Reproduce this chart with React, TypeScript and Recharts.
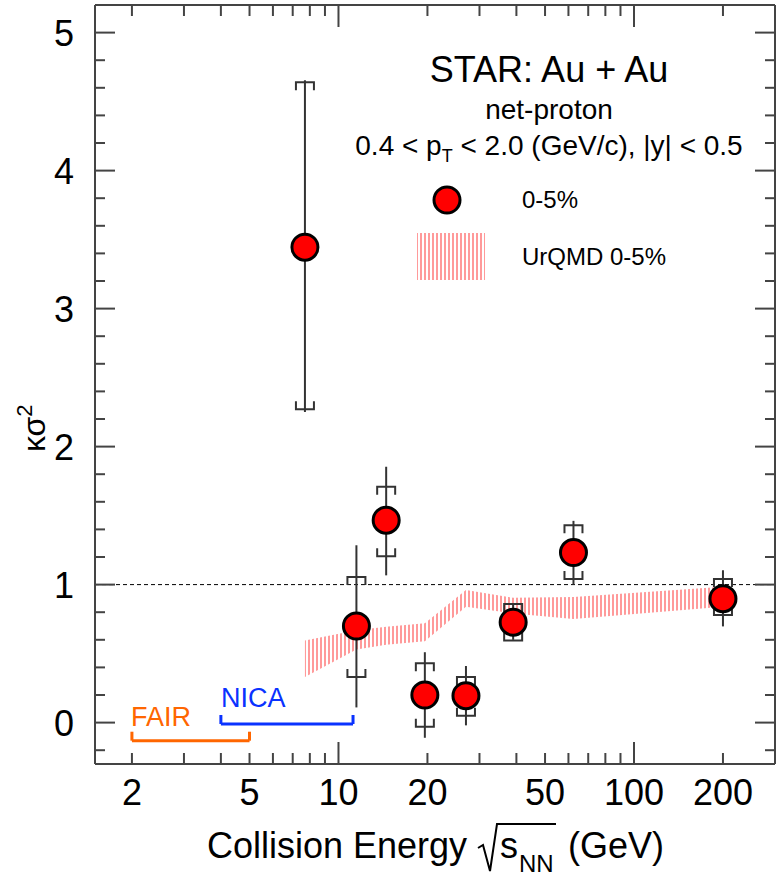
import React from "react";
import {
  ComposedChart,
  Area,
  Scatter,
  ErrorBar,
  XAxis,
  YAxis,
  ReferenceLine,
} from "recharts";

// net-proton kappa*sigma^2, 0-5% Au+Au (STAR)
const energies = [7.7, 11.5, 14.5, 19.6, 27, 39, 62.4, 200];
const kappaSigma2 = [3.445, 0.7, 1.467, 0.2, 0.195, 0.728, 1.232, 0.898];
const statLow = [2.25, 0.11, 1.067, -0.11, -0.02, 0.6, 1.0, 0.697];
const statHigh = [4.655, 1.285, 1.854, 0.51, 0.41, 0.86, 1.462, 1.104];
const sysLow = [2.27, 0.33, 1.205, -0.03, 0.05, 0.595, 1.04, 0.78];
const sysHigh = [4.64, 1.055, 1.709, 0.43, 0.33, 0.86, 1.43, 1.04];

// UrQMD 0-5% band, read at the same energies
const urqmdLow = [0.33, 0.53, 0.565, 0.59, 0.84, 0.79, 0.75, 0.84];
const urqmdHigh = [0.595, 0.67, 0.695, 0.72, 0.96, 0.905, 0.91, 0.985];

const xTicks = [2, 3, 4, 5, 6, 7, 8, 9, 10, 20, 30, 40, 50, 60, 70, 80, 90, 100, 200];
const xTickLabels = [2, 5, 10, 20, 50, 100, 200];
const xLongTicks = [10, 100];
const yTicks = Array.from({ length: 28 }, (_, i) => Math.round((i * 0.2 - 0.2) * 10) / 10);
const yTickLabels = [0, 1, 2, 3, 4, 5];

// facility ranges
const fairRange = [2, 5];
const fairY = -0.131;
const nicaRange = [4, 11.2];
const nicaY = -0.01;
const bracketLeg = 0.065;

const AXIS = "#444";
const FONT = "'Liberation Sans', Arial, Helvetica, sans-serif";
const FAIR_COLOR = "#ff6600";
const NICA_COLOR = "#0a32ff";
const ERR = "#333";

const rows = energies.map((e, i) => ({
  energy: e,
  ks2: kappaSigma2[i],
  statErr: [kappaSigma2[i] - statLow[i], statHigh[i] - kappaSigma2[i]],
  sysLow: sysLow[i],
  sysHigh: sysHigh[i],
  band: [urqmdLow[i], urqmdHigh[i]],
}));

const Stripes = ({ id }: { id: string }) => (
  <defs>
    <pattern id={id} patternUnits="userSpaceOnUse" width={4} height={10}>
      <rect x={0} y={0} width={2} height={10} fill="#ff9a9a" />
    </pattern>
  </defs>
);

const LeftTick = (props: any) => {
  const { x, y, payload } = props;
  const major = yTickLabels.includes(payload.value);
  return (
    <g>
      <line x1={x} x2={x + (major ? 20 : 10)} y1={y} y2={y} stroke={AXIS} strokeWidth={2} />
      {major && (
        <text x={x - 21} y={y} dy="0.36em" textAnchor="end" fontSize={36} fontFamily={FONT} fill="#000">
          {payload.value}
        </text>
      )}
    </g>
  );
};

const RightTick = (props: any) => {
  const { x, y, payload } = props;
  const major = yTickLabels.includes(payload.value);
  return <line x1={x} x2={x - (major ? 20 : 10)} y1={y} y2={y} stroke={AXIS} strokeWidth={2} />;
};

const BottomTick = (props: any) => {
  const { x, y, payload } = props;
  const long = xLongTicks.includes(payload.value);
  return (
    <g>
      <line x1={x} x2={x} y1={y} y2={y - (long ? 22 : 11)} stroke={AXIS} strokeWidth={2} />
      {xTickLabels.includes(payload.value) && (
        <text x={x} y={y + 41} textAnchor="middle" fontSize={36} fontFamily={FONT} fill="#000">
          {payload.value}
        </text>
      )}
    </g>
  );
};

const TopTick = (props: any) => {
  const { x, y, payload } = props;
  const long = xLongTicks.includes(payload.value);
  return <line x1={x} x2={x} y1={y} y2={y + (long ? 22 : 11)} stroke={AXIS} strokeWidth={2} />;
};

const SysTop = (props: any) => {
  const { cx, cy } = props;
  return <path d={`M${cx - 9},${cy + 8}V${cy}H${cx + 9}V${cy + 8}`} fill="none" stroke={ERR} strokeWidth={2} />;
};

const SysBottom = (props: any) => {
  const { cx, cy } = props;
  return <path d={`M${cx - 9},${cy - 8}V${cy}H${cx + 9}V${cy - 8}`} fill="none" stroke={ERR} strokeWidth={2} />;
};

const Dot = (props: any) => (
  <circle cx={props.cx} cy={props.cy} r={13} fill="#ff0000" stroke="#000" strokeWidth={3} />
);

const seg = (x1: number, y1: number, x2: number, y2: number) => [
  { x: x1, y: y1 },
  { x: x2, y: y2 },
];

const Overlay = () => (
  <svg
    width={783}
    height={888}
    style={{ position: "absolute", left: 0, top: 0, pointerEvents: "none" }}
    fontFamily={FONT}
  >
    <Stripes id="urqmdStripesLegend" />
    <text x={549} y={82} textAnchor="middle" fontSize={36}>STAR: Au + Au</text>
    <text x={549} y={119} textAnchor="middle" fontSize={28}>net-proton</text>
    <text x={549} y={155} textAnchor="middle" fontSize={28}>
      0.4 &lt; p
      <tspan fontSize={18} dy={7}>T</tspan>
      <tspan dy={-7}> &lt; 2.0 (GeV/c), |y| &lt; 0.5</tspan>
    </text>
    <circle cx={447} cy={200} r={13} fill="#ff0000" stroke="#000" strokeWidth={3} />
    <text x={522} y={208} fontSize={24}>0-5%</text>
    <rect x={417} y={233} width={68} height={47} fill="url(#urqmdStripesLegend)" />
    <text x={522} y={265} fontSize={24}>UrQMD 0-5%</text>

    <text x={131} y={726} fontSize={27} fill={FAIR_COLOR}>FAIR</text>
    <text x={221} y={707} fontSize={27} fill={NICA_COLOR}>NICA</text>

    <text transform="translate(45,452) rotate(-90)" fontSize={32}>
      κσ<tspan fontSize={22} dy={-13}>2</tspan>
    </text>

    <text x={207} y={858} fontSize={36}>Collision Energy</text>
    <path d="M478,848L483,845L490,871L497,824L556,824" fill="none" stroke="#000" strokeWidth={2} />
    <text x={500} y={858} fontSize={36}>s</text>
    <text x={519} y={872} fontSize={24}>NN</text>
    <text x={568} y={858} fontSize={36}>(GeV)</text>
  </svg>
);

export default function App() {
  return (
    <div style={{ position: "absolute", left: 0, top: 0, width: 783, height: 888, background: "#fff" }}>
      <ComposedChart
        width={783}
        height={888}
        data={rows}
        margin={{ top: 4, right: 7, bottom: 0, left: 0 }}
      >
        <Stripes id="urqmdStripes" />
        <XAxis
          dataKey="energy"
          type="number"
          scale="log"
          domain={[1.5, 300]}
          allowDataOverflow
          ticks={xTicks}
          interval={0}
          height={124}
          tickSize={0}
          tickMargin={0}
          tickLine={false}
          tick={<BottomTick />}
          axisLine={{ stroke: AXIS, strokeWidth: 2 }}
        />
        <XAxis
          xAxisId="top"
          dataKey="energy"
          orientation="top"
          type="number"
          scale="log"
          domain={[1.5, 300]}
          allowDataOverflow
          ticks={xTicks}
          interval={0}
          height={1}
          tickSize={0}
          tickMargin={0}
          tickLine={false}
          tick={<TopTick />}
          axisLine={{ stroke: AXIS, strokeWidth: 2 }}
        />
        <YAxis
          type="number"
          domain={[-0.3, 5.2]}
          allowDataOverflow
          ticks={yTicks}
          interval={0}
          width={95}
          tickSize={0}
          tickMargin={0}
          tickLine={false}
          tick={<LeftTick />}
          axisLine={{ stroke: AXIS, strokeWidth: 2 }}
        />
        <YAxis
          yAxisId="right"
          orientation="right"
          type="number"
          domain={[-0.3, 5.2]}
          allowDataOverflow
          ticks={yTicks}
          interval={0}
          width={1}
          tickSize={0}
          tickMargin={0}
          tickLine={false}
          tick={<RightTick />}
          axisLine={{ stroke: AXIS, strokeWidth: 2 }}
        />

        <Area
          dataKey="band"
          type="linear"
          stroke="none"
          fill="url(#urqmdStripes)"
          fillOpacity={1}
          dot={false}
          activeDot={false}
          isAnimationActive={false}
        />

        <ReferenceLine y={1} stroke="#000" strokeWidth={1} strokeDasharray="4 3" />

        <ReferenceLine segment={seg(fairRange[0], fairY, fairRange[1], fairY)} stroke={FAIR_COLOR} strokeWidth={3} />
        <ReferenceLine segment={seg(fairRange[0], fairY, fairRange[0], fairY + bracketLeg)} stroke={FAIR_COLOR} strokeWidth={3} />
        <ReferenceLine segment={seg(fairRange[1], fairY, fairRange[1], fairY + bracketLeg)} stroke={FAIR_COLOR} strokeWidth={3} />
        <ReferenceLine segment={seg(nicaRange[0], nicaY, nicaRange[1], nicaY)} stroke={NICA_COLOR} strokeWidth={3} />
        <ReferenceLine segment={seg(nicaRange[0], nicaY, nicaRange[0], nicaY + bracketLeg)} stroke={NICA_COLOR} strokeWidth={3} />
        <ReferenceLine segment={seg(nicaRange[1], nicaY, nicaRange[1], nicaY + bracketLeg)} stroke={NICA_COLOR} strokeWidth={3} />

        <Scatter dataKey="sysHigh" shape={<SysTop />} isAnimationActive={false} />
        <Scatter dataKey="sysLow" shape={<SysBottom />} isAnimationActive={false} />
        <Scatter dataKey="ks2" shape={<Dot />} isAnimationActive={false}>
          <ErrorBar dataKey="statErr" direction="y" width={0} stroke={ERR} strokeWidth={2} isAnimationActive={false} />
        </Scatter>
      </ComposedChart>
      <Overlay />
    </div>
  );
}
